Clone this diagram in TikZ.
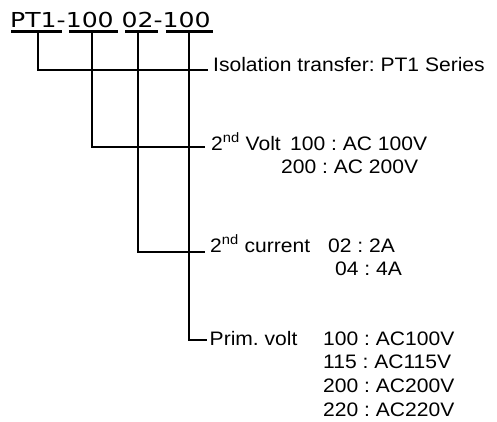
\documentclass[tikz,border=0pt]{standalone}
\usepackage{fontspec}
\setmainfont{Liberation Sans}[FakeStretch=1.08]
\newfontfamily\titlefont{DejaVu Sans}[FakeStretch=1.22]
\frenchspacing
\begin{document}
\begin{tikzpicture}[x=1pt,y=1pt,
  lbl/.style={anchor=base west, inner sep=0pt, font=\fontsize{19.5}{23}\selectfont\frenchspacing},
  ttl/.style={anchor=base west, inner sep=0pt, font=\titlefont\fontsize{20.6}{24}\selectfont},
  bar/.style={fill=black, draw=none, inner sep=0pt, minimum height=3pt},
  conn/.style={line width=1.5pt, line join=miter}]
\useasboundingbox (0,0) rectangle (497,-421);
% title
\node[ttl] (title) at (10,-27) {PT1-100 02-100};
\node[bar, minimum width=51pt] (u1) at (36.5,-31.5) {};
\node[bar, minimum width=49pt] (u2) at (93.5,-31.5) {};
\node[bar, minimum width=33pt] (u3) at (141.5,-31.5) {};
\node[bar, minimum width=47pt] (u4) at (189.5,-31.5) {};
% column x positions
\coordinate (x1) at (38,0);
\coordinate (x2) at (92,0);
\coordinate (x3) at (138,0);
\coordinate (x4) at (189,0);
% branch ends
\coordinate (e1) at (208,-70);
\coordinate (e2) at (205,-147);
\coordinate (e3) at (205,-252);
\coordinate (e4) at (207,-340);
% labels
\node[lbl] (t1) at (213,-71) {Isolation transfer: PT1 Series};
\node[lbl] (t2) at (211,-150) {2\textsuperscript{nd} Volt};
\node[lbl] (t2a) at (290,-150) {100 : AC 100V};
\node[lbl] (t2b) at (281,-173) {200 : AC 200V};
\node[lbl] (t3) at (210,-252) {2\textsuperscript{nd} current};
\node[lbl] (t3a) at (328,-252) {02 : 2A};
\node[lbl] (t3b) at (335,-275) {04 : 4A};
\node[lbl] (t4) at (209.5,-345) {Prim. volt};
\node[lbl] (t4a) at (323,-345) {100 : AC100V};
\node[lbl] (t4b) at (323,-368.5) {115 : AC115V};
\node[lbl] (t4c) at (323,-392.5) {200 : AC200V};
\node[lbl] (t4d) at (323,-416.5) {220 : AC220V};
% connectors
\draw[conn] (u1.south -| x1) |- (e1);
\draw[conn] (u2.south -| x2) |- (e2);
\draw[conn] (u3.south -| x3) |- (e3);
\draw[conn] (u4.south -| x4) |- (e4);
\end{tikzpicture}
\end{document}
